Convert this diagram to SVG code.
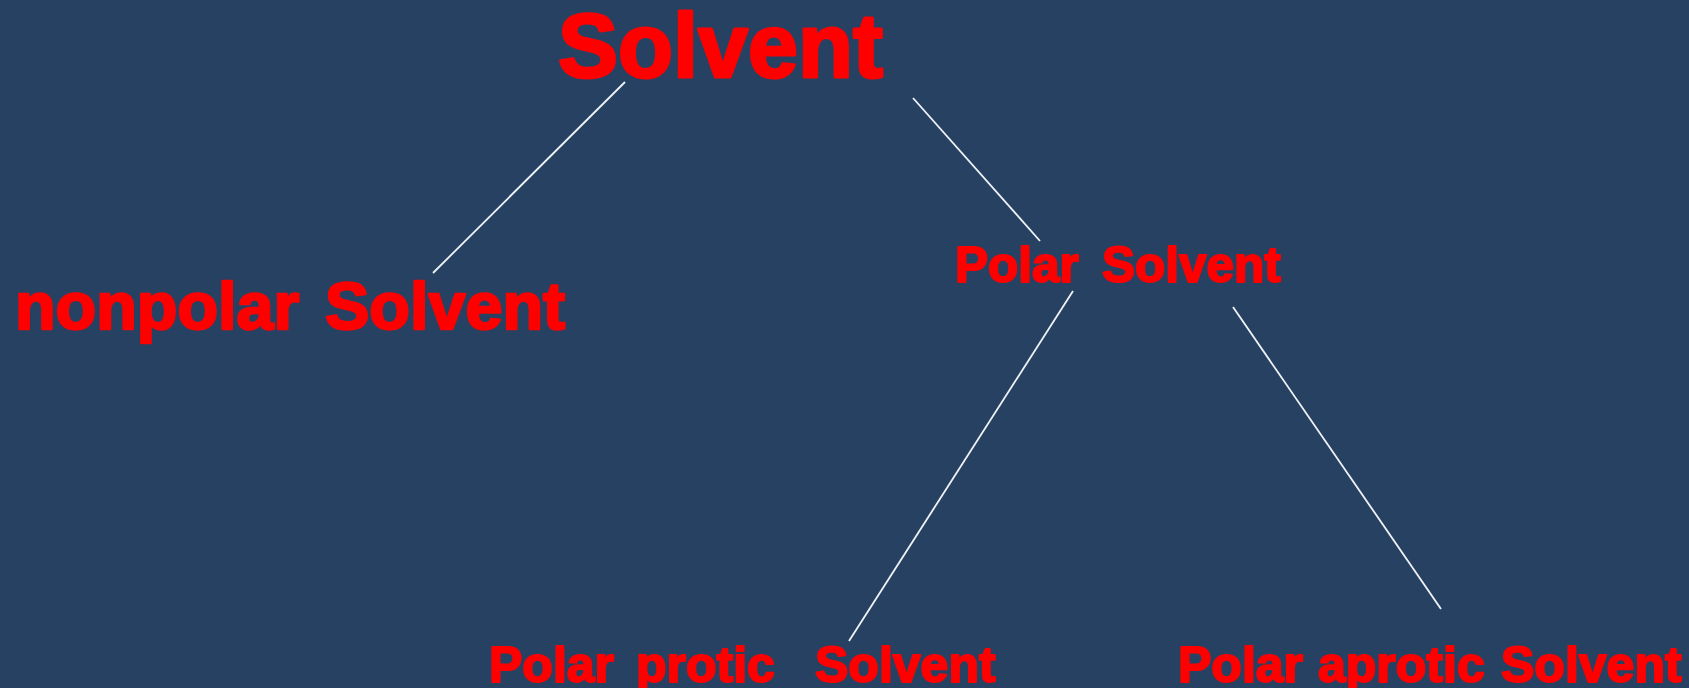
<svg xmlns="http://www.w3.org/2000/svg" width="1689" height="688" viewBox="0 0 1689 688">
<style>
.lbl{font-family:"Liberation Sans",Arial,sans-serif;font-weight:bold;fill:#ff0000;stroke:#ff0000;stroke-linejoin:round}
.conn line{stroke:#f0f4f8;stroke-width:1.8;stroke-linecap:butt}
</style>
<rect width="1689" height="688" fill="#274162"/>
<g id="connectors" class="conn">
<line x1="625" y1="82" x2="433" y2="273"/>
<line x1="913" y1="98" x2="1040" y2="241"/>
<line x1="1073" y1="291" x2="849" y2="641"/>
<line x1="1233" y1="307" x2="1441" y2="609"/>
</g>
<g id="solvent"><text class="lbl" x="558" y="77" font-size="90" stroke-width="3">Solvent</text></g>
<g id="nonpolar"><text class="lbl" y="329" font-size="66.5" stroke-width="2.5"><tspan x="15">nonpolar</tspan><tspan x="325">Solvent</tspan></text></g>
<g id="polar"><text class="lbl" y="282" font-size="49.5" stroke-width="2"><tspan x="955">Polar</tspan><tspan x="1102">Solvent</tspan></text></g>
<g id="protic"><text class="lbl" y="682" font-size="50" stroke-width="2"><tspan x="489">Polar</tspan><tspan x="636">protic</tspan><tspan x="815">Solvent</tspan></text></g>
<g id="aprotic"><text class="lbl" y="682" font-size="50" stroke-width="2"><tspan x="1178">Polar</tspan><tspan x="1318">aprotic</tspan><tspan x="1501">Solvent</tspan></text></g>
</svg>
